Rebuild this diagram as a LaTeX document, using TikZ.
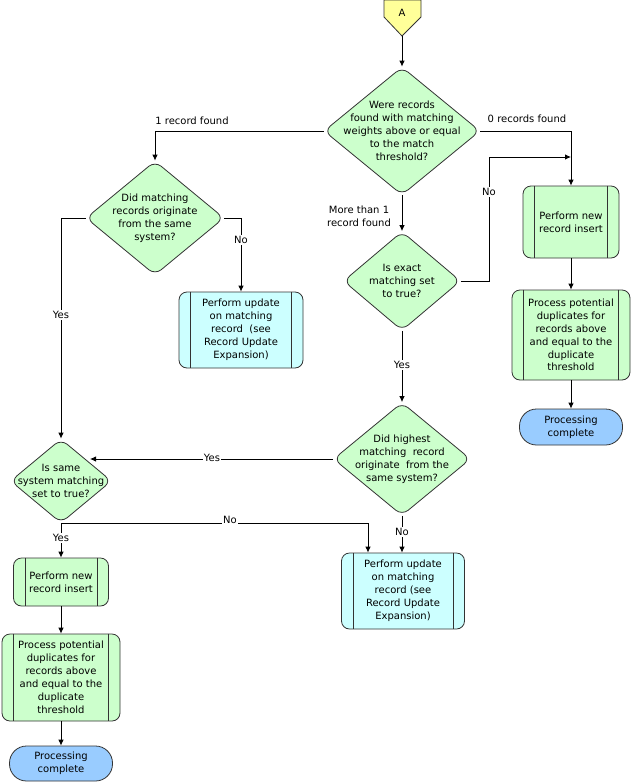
\documentclass[tikz,border=0pt]{standalone}
\usepackage{fontspec}
\setmainfont{DejaVu Sans}
\usetikzlibrary{shapes.geometric,arrows.meta}
\definecolor{gfill}{HTML}{CCFFCC}
\definecolor{cfill}{HTML}{CCFFFF}
\definecolor{bfill}{HTML}{99CCFF}
\definecolor{yfill}{HTML}{FFFF99}
\definecolor{edge}{HTML}{333333}
\tikzset{
  every node/.style={font=\fontsize{10}{12.9}\selectfont, align=center},
  dia/.style={diamond, draw=edge, fill=gfill, line width=0.8pt, rounded corners=8pt, inner sep=0pt},
  procbox/.style={rectangle, draw=edge, line width=0.8pt, rounded corners=8pt, inner sep=0pt},
  termbox/.style={rectangle, draw=edge, fill=bfill, line width=0.8pt, rounded corners=17pt, inner sep=0pt},
  arr/.style={draw=black, line width=0.8pt, -{Latex[length=6pt,width=5.5pt]}},
  lbl/.style={fill=white, inner sep=1pt},
}
\begin{document}
\begin{tikzpicture}[x=1pt,y=-1pt]
\useasboundingbox (0,0) rectangle (631,782);
% off-page connector A
\draw[draw=edge, fill=yfill, line width=0.8pt] (384,0) -- (421,0) -- (421,17) -- (402,36) -- (384,17) -- cycle;
\node (A) at (402,13) {A};
\coordinate (Atip) at (402,36);
% diamonds
\node[dia, minimum width=156pt, minimum height=128pt] (d1) at (402,131) {};
\node (d1t) at (d1.center) {Were records\\found with matching\\weights above or equal\\to the match\\threshold?};
\node[dia, minimum width=138pt, minimum height=114pt] (d2) at (155,218) {};
\node (d2t) at (d2.center) {Did matching\\records originate\\from the same\\system?};
\node[dia, minimum width=117pt, minimum height=99pt] (d3) at (402,281) {};
\node (d3t) at (d3.center) {Is exact\\matching set\\to true?};
\node[dia, minimum width=137pt, minimum height=113pt] (d5) at (402,459) {};
\node (d5t) at (d5.center) {Did highest\\matching\ \ record\\originate\ \ from the\\same system?};
\node[dia, minimum width=101pt, minimum height=84pt] (d4) at (61,481) {};
\node (d4t) at (d4.center) {Is same\\system matching\\set to true?};
% process boxes
\node[procbox, fill=gfill, minimum width=96pt, minimum height=72pt] (n1) at (571,222) {Perform new\\record insert};
\node[procbox, fill=gfill, minimum width=118pt, minimum height=90pt] (p1) at (571,335) {Process potential\\duplicates for\\records above\\and equal to the\\duplicate\\threshold};
\node[termbox, minimum width=103pt, minimum height=36pt] (t1) at (571,427) {Processing\\complete};
\node[procbox, fill=cfill, minimum width=124pt, minimum height=76pt] (u1) at (241,330) {Perform update\\on matching\\record\ \ (see\\Record Update\\Expansion)};
\node[procbox, fill=cfill, minimum width=123pt, minimum height=76pt] (u2) at (403,591) {Perform update\\on matching\\record (see\\Record Update\\Expansion)};
\node[procbox, fill=gfill, minimum width=95pt, minimum height=48pt] (b1) at (61,582) {Perform new\\record insert};
\node[procbox, fill=gfill, minimum width=118pt, minimum height=87pt] (p2) at (61,677.5) {Process potential\\duplicates for\\records above\\and equal to the\\duplicate\\threshold};
\node[termbox, minimum width=103pt, minimum height=35pt] (t2) at (61,763.5) {Processing\\complete};
\foreach \n in {n1,p1,u1,u2,b1,p2}{
  \draw[draw=edge, line width=0.8pt] ([xshift=12pt]\n.north west) -- ([xshift=12pt]\n.south west);
  \draw[draw=edge, line width=0.8pt] ([xshift=-12pt]\n.north east) -- ([xshift=-12pt]\n.south east);
}
% helper coordinates
\coordinate (j1) at (571,157);
\coordinate (k1) at (489,157);
\coordinate (j2) at (90,459);
\coordinate (k2x) at (368,0);
\coordinate (k2) at (d4.south -| k2x);
% connectors
\draw[arr] (Atip) -- (d1.north);
\draw[arr] (d1.east) -| (n1.north);
\draw[arr] (d1.west) -| (d2.north);
\draw[arr] (d1.south) -- (d3.north);
\draw[arr] (d2.east) -| (u1.north);
\draw[arr] (d2.west) -| (d4.north);
\draw[arr] (d3.east) -| (k1) -- (j1);
\draw[arr] (d3.south) -- (d5.north);
\draw[arr] (n1.south) -- (p1.north);
\draw[arr] (p1.south) -- (t1.north);
\draw[arr] (d5.west) -- (j2);
\draw[arr] (d5.south) -- (d5.south |- u2.north);
\draw[arr] (d4.south) -- (b1.north);
\draw[arr] (d4.south) -- (k2) -- (k2 |- u2.north);
\draw[arr] (b1.south) -- (p2.north);
\draw[arr] (p2.south) -- (t2.north);
% labels
\node (l0) at (527,119) {0 records found};
\node (l1) at (192,121) {1 record found};
\node (lm) at (359,216) {More than 1\\record found};
\node[lbl] (ln1) at (241,240) {No};
\node[lbl] (ly1) at (61,315) {Yes};
\node[lbl] (ln2) at (489,192) {No};
\node[lbl] (ly2) at (402,365) {Yes};
\node[lbl] (ly3) at (212,458) {Yes};
\node[lbl] (ln3) at (402,532) {No};
\node[lbl] (ly4) at (61,538) {Yes};
\node[lbl] (ln4) at (230,520) {No};
\end{tikzpicture}
\end{document}
